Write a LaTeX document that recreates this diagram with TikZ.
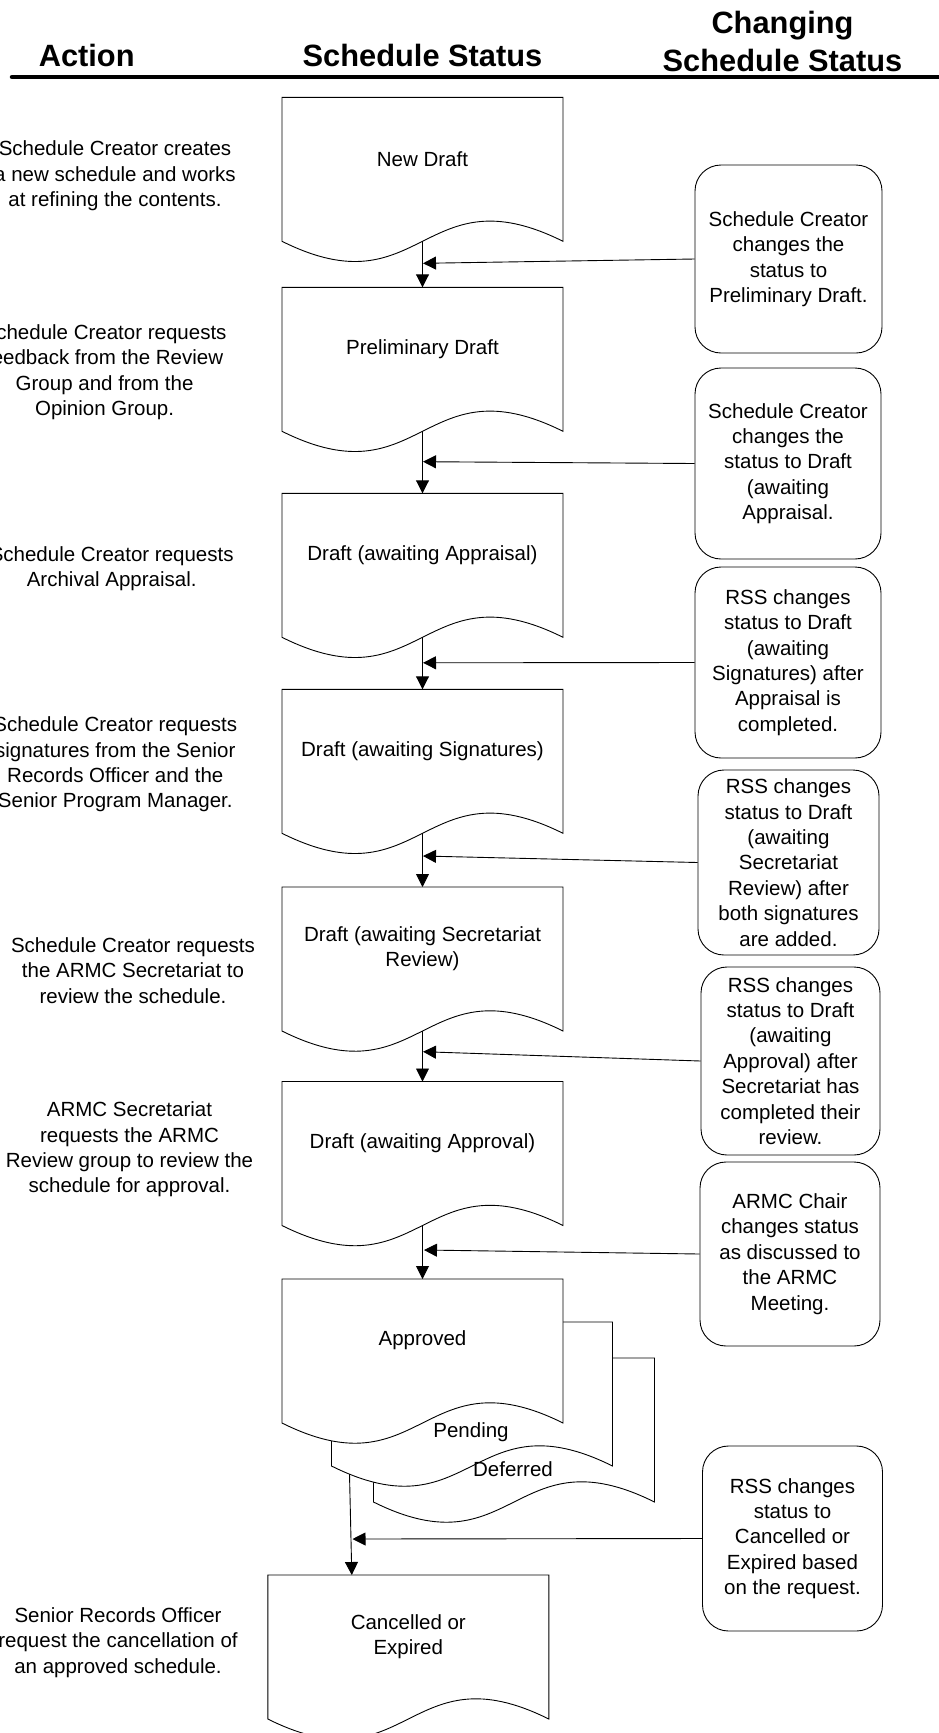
\documentclass[tikz,border=0pt]{standalone}
\usepackage{fontspec}
\setmainfont{Liberation Sans}
\usetikzlibrary{arrows.meta,calc}

% status sheet: name, centre x, top y, label
\newcommand{\docsheet}[4]{%
  \node[docarea] (#1) at (#2,#3+72) {};
  \path[docline] (#1.north west) -- (#1.north east) -- (#1.south east)
    .. controls +(-140.5,-70) and +(140.5,70) .. (#1.south west) -- cycle;
  \node[doctext] (#1t) at ($(#1.north)+(0,61.5)$) {#4};
}

\begin{document}
\begin{tikzpicture}[x=1pt,y=-1pt,
  docarea/.style={minimum width=281pt, minimum height=144pt, inner sep=0pt, outer sep=0pt},
  docline/.style={draw=black, fill=white, line width=0.9pt},
  txt/.style={font=\fontsize{20.5}{25.4}\selectfont, align=center, inner sep=0pt},
  doctext/.style={txt},
  note/.style={txt, draw=black, fill=white, line width=0.9pt, rounded corners=26pt},
  act/.style={txt},
  hdr/.style={font=\fontsize{30.8}{38.5}\selectfont\bfseries, align=center, inner sep=0pt},
  flow/.style={line width=0.9pt, -{Triangle[length=13pt,width=13pt]}},
]
\useasboundingbox (0,0) rectangle (939,1733);

% column headings
\node[hdr, anchor=base] (hact) at (86.7,66) {Action};
\node[hdr, anchor=base] (hstat) at (422.5,66) {Schedule Status};
\node[hdr] (hchg) at (782.5,41.5) {Changing\\Schedule Status};
\coordinate (rulel) at (12,77);
\coordinate (ruler) at (945,77);
\draw[line width=4.5pt, line cap=round] (rulel) -- (ruler);

% status sheets
\docsheet{b1}{422.5}{97.3}{New Draft}
\docsheet{b2}{422.5}{287.3}{Preliminary Draft}
\docsheet{b3}{422.5}{493.3}{Draft (awaiting Appraisal)}
\docsheet{b4}{422.5}{689.3}{Draft (awaiting Signatures)}
\docsheet{b5}{422.5}{887}{Draft (awaiting Secretariat\\Review)}
\docsheet{b6}{422.5}{1081.5}{Draft (awaiting Approval)}
\docsheet{bdef}{514}{1358}{}
\docsheet{bpen}{472}{1322}{}
\docsheet{b7}{422.5}{1279}{Approved}
\node[doctext] (pent) at (471,1432) {Pending};
\node[doctext] (deft) at (513,1469) {Deferred};
\docsheet{b8}{408.3}{1575}{Cancelled or\\Expired}

% actions
\node[act] (l1) at (115,176) {Schedule Creator creates\\a new schedule and works\\at refining the contents.};
\node[act] (l2) at (104.6,372) {Schedule Creator requests\\feedback from the Review\\Group and from the\\Opinion Group.};
\node[act] (l3) at (111.7,568.5) {Schedule Creator requests\\Archival Appraisal.};
\node[act] (l4) at (115.3,764.5) {Schedule Creator requests\\signatures from the Senior\\Records Officer and the\\Senior Program Manager.};
\node[act] (l5) at (133,970.5) {Schedule Creator requests\\the ARMC Secretariat to\\review the schedule.};
\node[act] (l6) at (129.5,1149.5) {ARMC Secretariat\\requests the ARMC\\Review group to review the\\schedule for approval.};
\node[act] (l7) at (118,1642.5) {Senior Records Officer\\request the cancellation of\\an approved schedule.};

% status changes
\node[note, minimum width=187pt, minimum height=188pt] (r1) at (788.5,259) {Schedule Creator\\changes the\\status to\\Preliminary Draft.};
\node[note, minimum width=186pt, minimum height=191pt] (r2) at (788,463.5) {Schedule Creator\\changes the\\status to Draft\\(awaiting\\Appraisal.};
\node[note, minimum width=186pt, minimum height=191pt] (r3) at (788,662.5) {RSS changes\\status to Draft\\(awaiting\\Signatures) after\\Appraisal is\\completed.};
\node[note, minimum width=181pt, minimum height=185pt] (r4) at (788.5,862.5) {RSS changes\\status to Draft\\(awaiting\\Secretariat\\Review) after\\both signatures\\are added.};
\node[note, minimum width=179pt, minimum height=188pt] (r5) at (790.5,1061) {RSS changes\\status to Draft\\(awaiting\\Approval) after\\Secretariat has\\completed their\\review.};
\node[note, minimum width=180pt, minimum height=184pt] (r6) at (790,1254) {ARMC Chair\\changes status\\as discussed to\\the ARMC\\Meeting.};
\node[note, minimum width=180pt, minimum height=185pt] (r7) at (792.5,1538.5) {RSS changes\\status to\\Cancelled or\\Expired based\\on the request.};

% flow between statuses
\draw[flow] (b1.south) -- (b2.north);
\draw[flow] (b2.south) -- (b3.north);
\draw[flow] (b3.south) -- (b4.north);
\draw[flow] (b4.south) -- (b5.north);
\draw[flow] (b5.south) -- (b6.north);
\draw[flow] (b6.south) -- (b7.north);
\coordinate (p0) at ($(bpen.south west)+(18,8)$);
\coordinate (c0) at ($(b8.north west)+(84,0)$);
\draw[flow] (p0) -- (c0);

% joins of the status changes
\coordinate (j1) at (423,263.3);
\coordinate (j2) at (423,461.7);
\coordinate (j3) at (423,662.8);
\coordinate (j4) at (423,856);
\coordinate (j5) at (423,1051.7);
\coordinate (j6) at (424,1250);
\coordinate (j7) at (352.5,1539);
\draw[flow] (r1.west) -- (j1);
\draw[flow] (r2.west) -- (j2);
\draw[flow] (r3.west) -- (j3);
\draw[flow] (r4.west) -- (j4);
\draw[flow] (r5.west) -- (j5);
\draw[flow] (r6.west) -- (j6);
\draw[flow] (r7.west) -- (j7);
\end{tikzpicture}
\end{document}
